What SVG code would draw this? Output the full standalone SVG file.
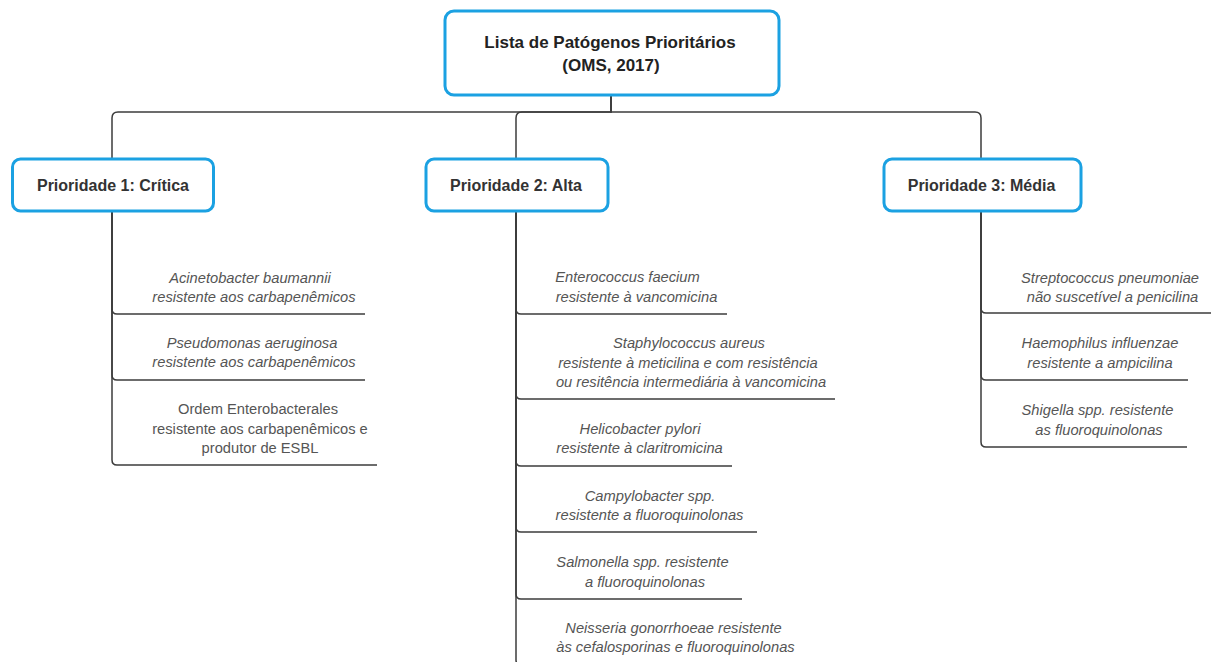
<svg xmlns="http://www.w3.org/2000/svg" width="1211" height="662" viewBox="0 0 1211 662">
  <style>
    .box { fill: #ffffff; stroke: #1ba1e2; stroke-width: 3; }
    .edge { fill: none; stroke: #3c3c3c; stroke-width: 1.5; }
    .title { font-family: "Liberation Sans", Arial, sans-serif; font-weight: bold; font-size: 17px; fill: #222; text-anchor: middle; }
    .head { font-family: "Liberation Sans", Arial, sans-serif; font-weight: bold; font-size: 16px; fill: #333; text-anchor: middle; }
    .leaf { font-family: "Liberation Sans", Arial, sans-serif; font-style: italic; font-size: 14.7px; fill: #555; text-anchor: middle; }
    .plain { font-style: normal; }
  </style>
  <rect width="1211" height="662" fill="#ffffff"/>

  <!-- connectors -->
  <g id="connectors">
    <!-- root to the three priority groups -->
    <path class="edge" d="M611,96 V112 H118 Q112,112 112,118 V159"/>
    <path class="edge" d="M611,96 V112 H522 Q516,112 516,118 V159"/>
    <path class="edge" d="M611,96 V112 H975 Q981,112 981,118 V159"/>
    <!-- priority 1 leaves -->
    <path class="edge" d="M112,211 V309 Q112,314 117,314 H365"/>
    <path class="edge" d="M112,211 V375 Q112,380 117,380 H365"/>
    <path class="edge" d="M112,211 V460 Q112,465 117,465 H377"/>
    <!-- priority 2 leaves -->
    <path class="edge" d="M516,211 V309 Q516,314 521,314 H727"/>
    <path class="edge" d="M516,211 V394 Q516,399 521,399 H835"/>
    <path class="edge" d="M516,211 V461 Q516,466 521,466 H732"/>
    <path class="edge" d="M516,211 V527 Q516,532 521,532 H757"/>
    <path class="edge" d="M516,211 V594 Q516,599 521,599 H742"/>
    <path class="edge" d="M516,211 V660 Q516,665 521,665 H790"/>
    <!-- priority 3 leaves -->
    <path class="edge" d="M981,211 V308 Q981,313 986,313 H1211"/>
    <path class="edge" d="M981,211 V375 Q981,380 986,380 H1188"/>
    <path class="edge" d="M981,211 V442 Q981,447 986,447 H1187"/>
  </g>

  <!-- root -->
  <g id="root">
    <rect class="box" x="445" y="11" width="334" height="84" rx="9"/>
    <text class="title" x="610" y="48">Lista de Patógenos Prioritários</text>
    <text class="title" x="611" y="71">(OMS, 2017)</text>
  </g>

  <!-- priority groups -->
  <g id="prioridade-1">
    <rect class="box" x="12.5" y="159" width="201" height="52" rx="8"/>
    <text class="head" x="113" y="191">Prioridade 1: Crítica</text>
  </g>
  <g id="prioridade-2">
    <rect class="box" x="426" y="159" width="182" height="52" rx="8"/>
    <text class="head" x="516" y="191">Prioridade 2: Alta</text>
  </g>
  <g id="prioridade-3">
    <rect class="box" x="884" y="159" width="197" height="52" rx="8"/>
    <text class="head" x="981.5" y="191">Prioridade 3: Média</text>
  </g>

  <!-- priority 1 items -->
  <g id="acinetobacter">
    <text class="leaf" x="250" y="283">Acinetobacter baumannii</text>
    <text class="leaf" x="254" y="302">resistente aos carbapenêmicos</text>
  </g>
  <g id="pseudomonas">
    <text class="leaf" x="252" y="348">Pseudomonas aeruginosa</text>
    <text class="leaf" x="254" y="367">resistente aos carbapenêmicos</text>
  </g>
  <g id="enterobacterales">
    <text class="leaf plain" x="258" y="414">Ordem Enterobacterales</text>
    <text class="leaf plain" x="260" y="434">resistente aos carbapenêmicos e</text>
    <text class="leaf plain" x="260" y="453">produtor de ESBL</text>
  </g>

  <!-- priority 2 items -->
  <g id="enterococcus">
    <text class="leaf" x="627.5" y="282">Enterococcus faecium</text>
    <text class="leaf" x="636.5" y="302">resistente à vancomicina</text>
  </g>
  <g id="staphylococcus">
    <text class="leaf" x="689" y="348">Staphylococcus aureus</text>
    <text class="leaf" x="688" y="368">resistente à meticilina e com resistência</text>
    <text class="leaf" x="691" y="387">ou resitência intermediária à vancomicina</text>
  </g>
  <g id="helicobacter">
    <text class="leaf" x="640" y="434">Helicobacter pylori</text>
    <text class="leaf" x="639.5" y="453">resistente à claritromicina</text>
  </g>
  <g id="campylobacter">
    <text class="leaf" x="650" y="501">Campylobacter spp.</text>
    <text class="leaf" x="649.5" y="520">resistente a fluoroquinolonas</text>
  </g>
  <g id="salmonella">
    <text class="leaf" x="642.5" y="567">Salmonella spp. resistente</text>
    <text class="leaf" x="645" y="587">a fluoroquinolonas</text>
  </g>
  <g id="neisseria">
    <text class="leaf" x="673.5" y="633">Neisseria gonorrhoeae resistente</text>
    <text class="leaf" x="675.5" y="652">às cefalosporinas e fluoroquinolonas</text>
  </g>

  <!-- priority 3 items -->
  <g id="streptococcus">
    <text class="leaf" x="1110" y="283">Streptococcus pneumoniae</text>
    <text class="leaf" x="1112.5" y="302">não suscetível a penicilina</text>
  </g>
  <g id="haemophilus">
    <text class="leaf" x="1100" y="348">Haemophilus influenzae</text>
    <text class="leaf" x="1100" y="368">resistente a ampicilina</text>
  </g>
  <g id="shigella">
    <text class="leaf" x="1097.5" y="415">Shigella spp. resistente</text>
    <text class="leaf" x="1099" y="435">as fluoroquinolonas</text>
  </g>
</svg>
